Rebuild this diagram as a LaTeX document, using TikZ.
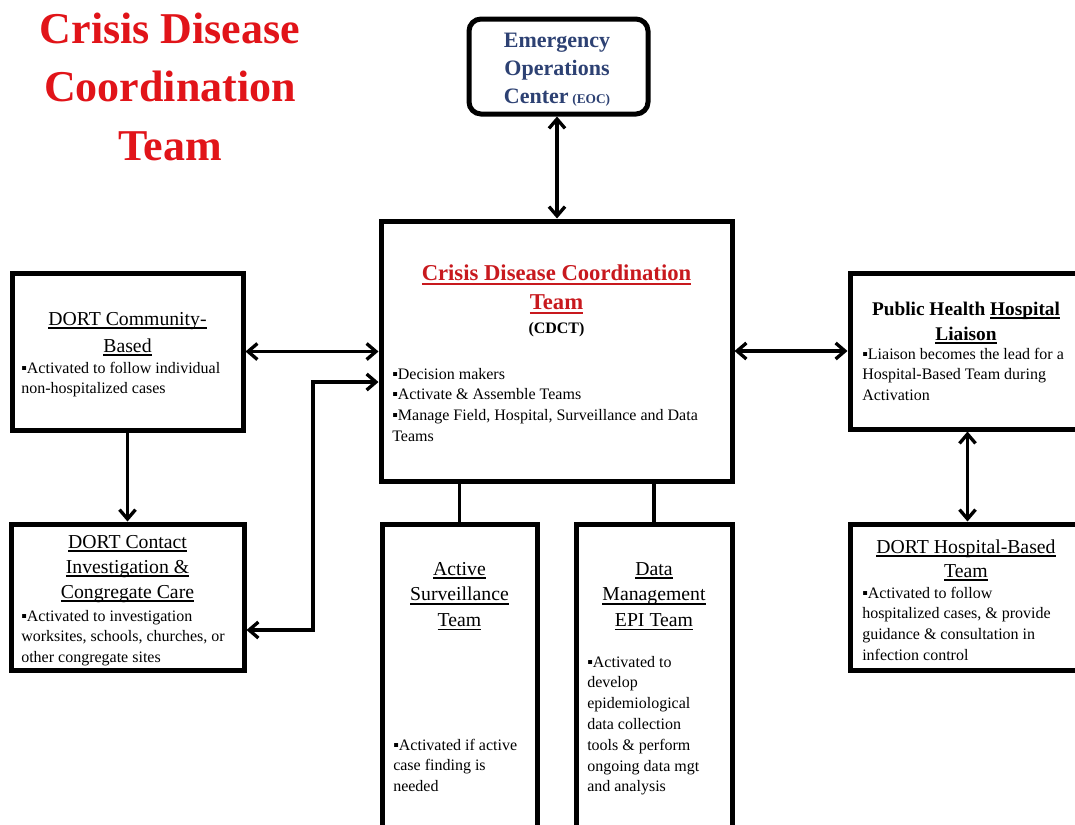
\documentclass[tikz,border=0pt]{standalone}
\usepackage{fontspec}
\setmainfont{Liberation Serif}
\usetikzlibrary{arrows.meta,fit}
\definecolor{titlered}{RGB}{225,20,25}
\definecolor{cdctred}{RGB}{200,25,30}
\definecolor{eocblue}{RGB}{45,65,115}
\newcommand\myul[1]{\setbox0=\hbox{#1}\rlap{\rule[-0.2em]{\wd0}{0.075em}}\box0}
\tikzset{
  box/.style={draw, line width=3.75pt, inner sep=0pt, fill=white},
  conn/.style={line width=2.5pt},
  dbl/.style={conn, {Straight Barb[length=7pt,width=12pt]}-{Straight Barb[length=7pt,width=12pt]}},
  sgl/.style={conn, -{Straight Barb[length=7pt,width=12pt]}},
  ttl/.style={anchor=base, inner sep=0pt, font=\fontsize{14.8}{19.2}\selectfont},
  blt/.style={anchor=base west, inner sep=0pt, font=\fontsize{12}{15.6}\selectfont},
}
\begin{document}
\begin{tikzpicture}[x=0.75pt,y=-0.75pt]
\useasboundingbox (0,0) rectangle (1075,825);
\clip (0,0) rectangle (1075,825);
\fill[white] (0,0) rectangle (1075,825);

% boxes
\node[box, rounded corners=9pt, fit={(469,19) (648,114)}] (eoc) {};
\node[box, fit={(381,221) (732,481)}] (cdct) {};
\node[box, fit={(12,273) (243,430)}] (comm) {};
\node[box, fit={(11,524) (244,670)}] (contact) {};
\node[box, fit={(382,524) (537,850)}] (active) {};
\node[box, fit={(576,524) (732,850)}] (data) {};
\node[box, fit={(850,273) (1085,429)}] (ph) {};
\node[box, fit={(850,524) (1085,670)}] (hosp) {};

% main title
\node[anchor=base, inner sep=0pt, text=titlered, font=\fontsize{33}{43.9}\selectfont\bfseries] (title) at (170,43)
  {\begin{tabular}[t]{@{}c@{}}Crisis Disease\\Coordination\\Team\end{tabular}};

% EOC
\node[anchor=base, inner sep=0pt, text=eocblue, font=\fontsize{16.5}{21}\selectfont\bfseries] (eoctext) at (557,47)
  {\begin{tabular}[t]{@{}c@{}}Emergency\\Operations\\Center\,{\fontsize{10}{12}\selectfont(EOC)}\end{tabular}};

% CDCT
\node[anchor=base, inner sep=0pt, text=cdctred, font=\fontsize{17}{21.75}\selectfont\bfseries] (cdcttitle) at (556.5,280)
  {\begin{tabular}[t]{@{}c@{}}\myul{Crisis Disease Coordination}\\\myul{Team}\end{tabular}};
\node[anchor=base, inner sep=0pt, font=\fontsize{12}{14}\selectfont\bfseries] (cdctabbr) at (556.5,333) {(CDCT)};
\node[blt] (cdctbul) at (392,379)
  {\begin{tabular}[t]{@{}l@{}}▪Decision makers\\▪Activate \& Assemble Teams\\▪Manage Field, Hospital, Surveillance and Data\\Teams\end{tabular}};

% DORT Community-Based
\node[ttl, font=\fontsize{14.8}{20.25}\selectfont] (commtitle) at (127.5,325)
  {\begin{tabular}[t]{@{}c@{}}\myul{DORT Community-}\\\myul{Based}\end{tabular}};
\node[blt] (commbul) at (21,373)
  {\begin{tabular}[t]{@{}l@{}}▪Activated to follow individual\\non-hospitalized cases\end{tabular}};

% DORT Contact
\node[ttl, font=\fontsize{14.8}{18.75}\selectfont] (contacttitle) at (127.5,548)
  {\begin{tabular}[t]{@{}c@{}}\myul{DORT Contact}\\\myul{Investigation \&}\\\myul{Congregate Care}\end{tabular}};
\node[blt] (contactbul) at (21,621)
  {\begin{tabular}[t]{@{}l@{}}▪Activated to investigation\\worksites, schools, churches, or\\other congregate sites\end{tabular}};

% Active Surveillance
\node[ttl] (activetitle) at (459.5,575)
  {\begin{tabular}[t]{@{}c@{}}\myul{Active}\\\myul{Surveillance}\\\myul{Team}\end{tabular}};
\node[blt] (activebul) at (393,750)
  {\begin{tabular}[t]{@{}l@{}}▪Activated if active\\case finding is\\needed\end{tabular}};

% Data Management
\node[ttl] (datatitle) at (654,575)
  {\begin{tabular}[t]{@{}c@{}}\myul{Data}\\\myul{Management}\\\myul{EPI Team}\end{tabular}};
\node[blt] (databul) at (587,667)
  {\begin{tabular}[t]{@{}l@{}}▪Activated to\\develop\\epidemiological\\data collection\\tools \& perform\\ongoing data mgt\\and analysis\end{tabular}};

% Public Health Hospital Liaison
\node[ttl, font=\fontsize{14.5}{18.75}\selectfont\bfseries] (phtitle) at (966,315)
  {\begin{tabular}[t]{@{}c@{}}Public Health \myul{Hospital}\\\myul{Liaison}\end{tabular}};
\node[blt] (phbul) at (862,359)
  {\begin{tabular}[t]{@{}l@{}}▪Liaison becomes the lead for a\\Hospital-Based Team during\\Activation\end{tabular}};

% DORT Hospital-Based
\node[ttl, font=\fontsize{14.8}{18}\selectfont] (hosptitle) at (966,553)
  {\begin{tabular}[t]{@{}c@{}}\myul{DORT Hospital-Based}\\\myul{Team}\end{tabular}};
\node[blt] (hospbul) at (862,598)
  {\begin{tabular}[t]{@{}l@{}}▪Activated to follow\\hospitalized cases, \& provide\\guidance \& consultation in\\infection control\end{tabular}};

% connectors
\coordinate (e1) at (313,382);
\coordinate (e2) at (313,630);
\draw[dbl] (eoc.south -| 557,0) -- (cdct.north -| 557,0);
\draw[dbl] (comm.east) -- (cdct.west |- comm.east);
\draw[dbl] (cdct.east) -- (ph.west |- cdct.east);
\draw[sgl] (comm.south) -- (comm.south |- contact.north);
\draw[dbl] (cdct.west |- e1) -- (e1) -- (e2) -- (contact.east |- e2);
\draw[dbl] (ph.south) -- (ph.south |- hosp.north);
\draw[conn] (cdct.south -| active.north) -- (active.north);
\draw[conn] (cdct.south -| data.north) -- (data.north);
\end{tikzpicture}
\end{document}
